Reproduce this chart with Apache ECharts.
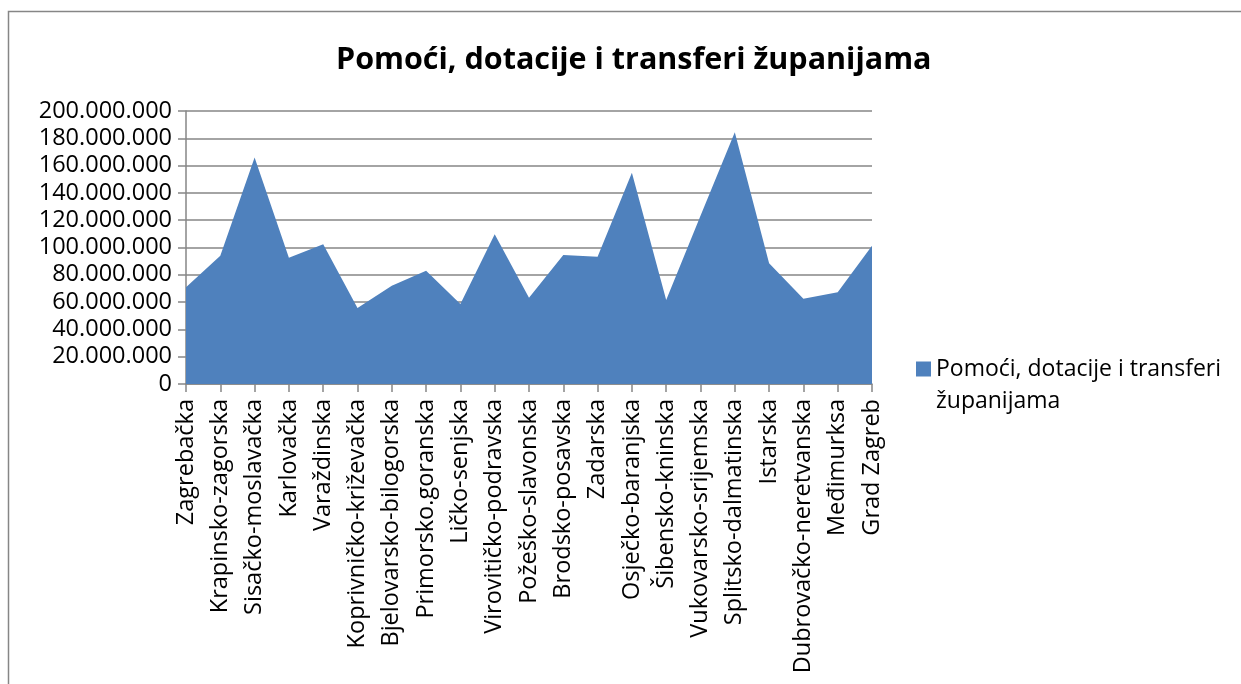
<!DOCTYPE html>
<html>
<head>
<meta charset="utf-8">
<script src="https://cdn.jsdelivr.net/npm/echarts@6/dist/echarts.min.js"></script>
<style>html,body{margin:0;padding:0;background:#fff;}#c{width:1241px;height:684px;}</style>
</head>
<body>
<div id="c"></div>
<script>
const categories = ['Zagrebačka','Krapinsko-zagorska','Sisačko-moslavačka','Karlovačka','Varaždinska','Koprivničko-križevačka','Bjelovarsko-bilogorska','Primorsko.goranska','Ličko-senjska','Virovitičko-podravska','Požeško-slavonska','Brodsko-posavska','Zadarska','Osječko-baranjska','Šibensko-kninska','Vukovarsko-srijemska','Splitsko-dalmatinska','Istarska','Dubrovačko-neretvanska','Međimurksa','Grad Zagreb'];
const values = [70800000,94000000,166000000,92500000,102300000,55700000,72000000,83000000,58600000,109700000,63200000,94500000,93300000,154800000,61500000,123300000,184400000,88400000,62500000,67200000,101300000];
const seriesName = 'Pomoći, dotacije i transferi županijama';
const titleText = 'Pomoći, dotacije i transferi županijama';
const legendLines = ['Pomoći, dotacije i transferi', 'županijama'];

const FONT = 'Open Sans';
const chart = echarts.init(document.getElementById('c'), null, {renderer:'canvas'});
function fmt(v){ return String(v).replace(/\B(?=(\d{3})+(?!\d))/g, '.'); }
chart.setOption({
  animation:false,
  backgroundColor:'#ffffff',
  graphic:[{type:'rect', shape:{x:8.5,y:11.5,width:1400,height:1000}, style:{fill:'none', stroke:'#868686', lineWidth:1.5}, silent:true}],
  title:{text:titleText, left:331, top:40, textStyle:{fontFamily:FONT, fontWeight:'bold', fontSize:30.5, color:'#000'}},
  legend:{
    left:911, top:316, orient:'vertical', icon:'rect', itemWidth:15, itemHeight:15, itemGap:5,
    formatter:function(){ return '\n' + legendLines.join('\n'); },
    textStyle:{fontFamily:FONT, fontSize:23, color:'#000', lineHeight:32}
  },
  grid:{left:186, right:369, top:111, bottom:300, containLabel:false},
  xAxis:{
    type:'category', data:categories, boundaryGap:false,
    axisLine:{show:true, lineStyle:{color:'#868686', width:1.5}},
    axisTick:{show:true, length:8, interval:0, inside:false, lineStyle:{color:'#868686', width:1.5}},
    axisLabel:{rotate:90, interval:0, margin:15, fontFamily:FONT, fontSize:23.5, color:'#000'},
    splitLine:{show:false}
  },
  yAxis:{
    type:'value', min:0, max:200000000, interval:20000000,
    axisLine:{show:true, lineStyle:{color:'#868686', width:1.5}},
    axisTick:{show:true, length:8, inside:false, lineStyle:{color:'#868686', width:1.5}},
    axisLabel:{margin:14, fontFamily:FONT, fontSize:23.5, color:'#000', formatter:fmt},
    splitLine:{show:true, lineStyle:{color:'#868686', width:1.5}}
  },
  series:[{
    name:seriesName, type:'line', data:values, symbol:'none',
    lineStyle:{width:0, color:'#4F81BD'}, itemStyle:{color:'#4F81BD'},
    areaStyle:{color:'#4F81BD', opacity:1}
  }]
});
</script>
</body>
</html>
